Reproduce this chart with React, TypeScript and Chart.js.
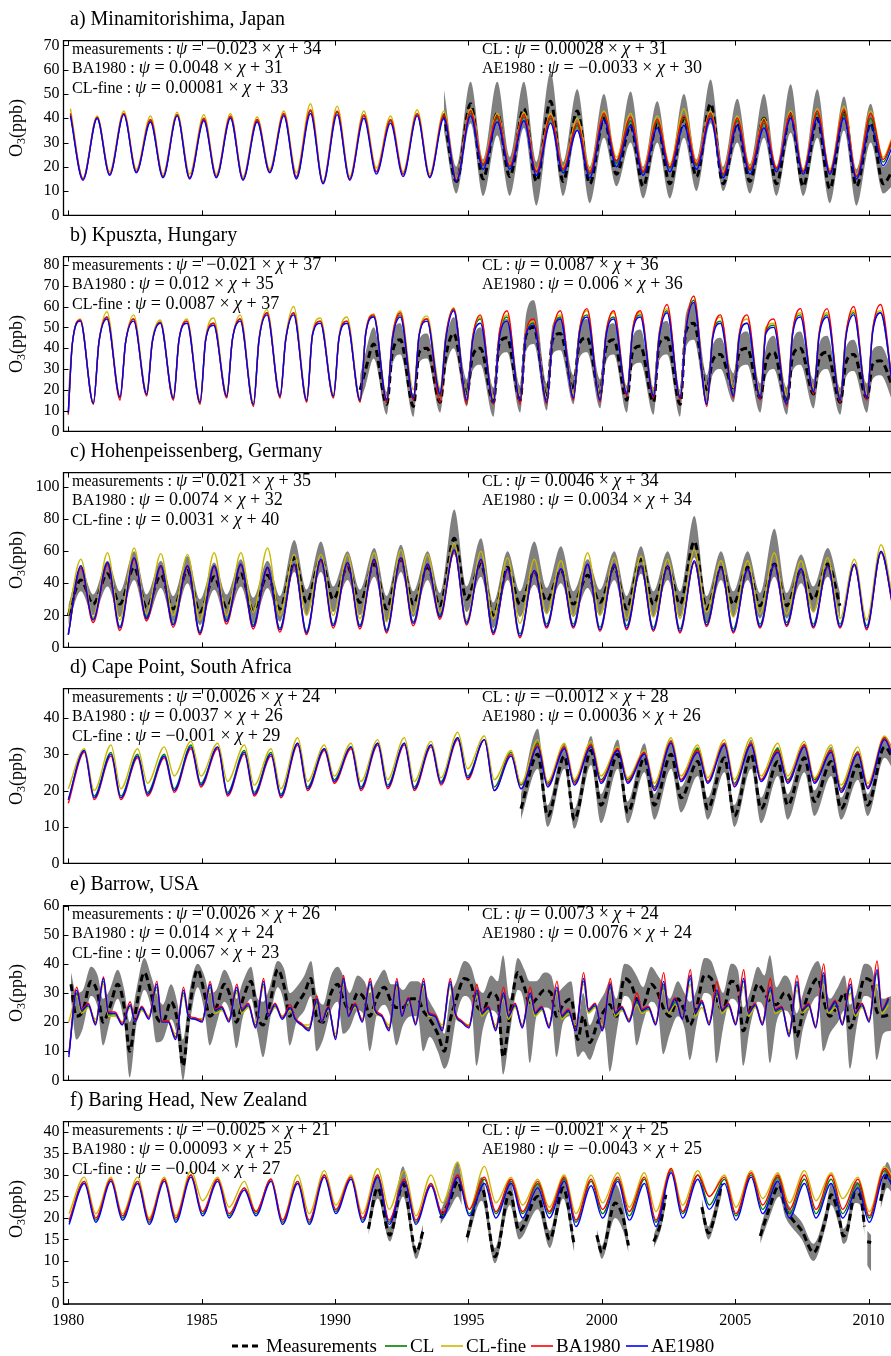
import React, { useEffect, useRef } from "react";
import { Chart, registerables } from "chart.js";
Chart.register(...registerables);

const N = null;
const SERIF = '"Liberation Serif", "Times New Roman", Times, serif';
const YEARS: number[] = [];
for (let y = 1980; y <= 2010; y++) YEARS.push(y);
const X_TICKS = [1980, 1985, 1990, 1995, 2000, 2005, 2010];
const X_MIN = 1979.82;
const X_MAX = 2011.03;
const PLOT_H = 190;

const COL_CL = "#008000";
const COL_CLF = "#ccb800";
const COL_BA = "#ff0000";
const COL_AE = "#0000ff";
const COL_BAND = "#808080";

function knots(phases: number[], head?: number, tail?: number): number[] {
  const t: number[] = [];
  if (head !== undefined) t.push(head);
  for (const y of YEARS) for (const p of phases) t.push(y + p);
  if (tail !== undefined) t.push(tail);
  return t;
}

// ---------------- a) Minamitorishima (peak, trough per year) ----------------
const A_T = knots([0.08, 0.55], undefined, 2010.88);
const A_CLF = [44,15.5, 41,18, 43,19, 41,17, 42.5,17, 41.5,17, 42,16, 40.5,19, 43,17.5, 46,14, 45,16, 43,19.5, 41,18, 43.5,17, 43,15, 44,22, 42,21, 42.5,19, 42,20, 40,19, 43,24, 42,19, 41,21, 44,22, 43,18, 41,20, 40,20, 43,19, 44,19, 45,17, 43,24, 32];
const A_AE = [41,14.5, 40,16.5, 41.5,17.5, 38.5,15.5, 41,15, 39,15.5, 40,14.5, 38.5,17.5, 41,15, 42,13, 41.5,14.5, 40,17, 38,16, 41,15.5, 40,14, 41,19, 38.5,19, 39,16.5, 38,17.5, 35,15.5, 39.5,20, 37,16.5, 36,18, 37,19, 40,15.5, 37,17, 36,18, 40,17, 40,17, 40,15, 37,20.5, 28];
const A_BA = [42,15, 40.5,17, 42,18, 39.5,16, 41.5,15.5, 40,16, 41,15, 39.5,18, 42,16, 43.5,13.5, 43,15, 41.5,18, 39.5,17, 42,16, 41.5,14.5, 43,21, 41,20.5, 41.5,18, 41,19, 38,17.5, 42,22.5, 40.5,18, 39.5,20, 41,21, 42,17, 40,19, 39,19.5, 42,18, 43,18, 43.5,16, 42,23, 31];
const A_CL = [41.5,15, 40,17, 42,18, 39,16, 41.5,15.5, 39.5,16, 40.5,15, 39,18, 41.5,15.5, 43,13.5, 42.5,15, 41,18, 39,17, 41.5,16, 41,14.5, 42,20.5, 40,20, 40.5,18, 40,18.5, 37,17, 41,21.5, 39,17.5, 38.5,19.5, 40,20.5, 41,16.5, 39,18.5, 38,19, 41.5,18, 42,18, 42,16, 40,22, 30];
const A_MEAS = [N,N, N,N, N,N, N,N, N,N, N,N, N,N, N,N, N,N, N,N, N,N, N,N, N,N, N,N, 42,14, 46,15, 42,16, 44,14, 47,14, 43,13, 40,17, 37,12, 38,13, 40,16, 46,13, 38,14, 40,13, 42,12, 40,11, 43,12, 38,13, 18];
const A_LO = [N,N, N,N, N,N, N,N, N,N, N,N, N,N, N,N, N,N, N,N, N,N, N,N, N,N, N,N, 35,9, 38,8, 33,8, 36,4, 38,8, 35,5, 32,12, 30,7, 30,7, 32,10, 38,10, 30,9, 32,8, 34,8, 32,5, 35,4, 30,9, 12];
const A_HI = [N,N, N,N, N,N, N,N, N,N, N,N, N,N, N,N, N,N, N,N, N,N, N,N, N,N, N,N, 52,20, 55,23, 55,24, 55,22, 59,22, 52,20, 50,23, 51,20, 47,20, 50,23, 56,20, 48,21, 50,20, 54,19, 52,18, 49,19, 46,20, 26];

// ---------------- b) Kpuszta (shoulder, peak, trough per year) ----------------
const B_T = knots([0.15, 0.45, 0.94], 1980.0);
const B_CLF = [17, 42,54,14, 43,57.5,17, 43,56,19, 44,53.5,17, 44,54,15, 45,54.5,18, 44,56,14, 45,58.5,18, 45,60,16, 47,54.5,18, 46,55,16, 48,56.5,16.5, 46,58,20, 47,55.5,21, 46,59.5,17, 45,55,16, 46,56,17, 48,53,16, 47,56,18, 48,58,17, 47,57,20, 49,57,20, 47,59,18, 50,65,16, 46,55,21, 47,54,19, 50,52,17, 48,57,21, 48,57,18, 47,58,18, 49,58,20];
const B_AE = [9, 42,53,13.5, 43,54,16.5, 43,53,18, 43,52,16, 44,52,14, 44,51,17, 44,53,13, 44,56,17, 44,56,15, 46,52,17, 45,52,15, 47,55,15, 44,55,16, 46,53,18, 44,58,15, 43,52,14, 44,53,15, 46,51,14, 45,54,16, 46,55,15, 45,54,18, 47,55,17, 45,57,16, 48,62,13, 44,52,17, 45,52,16, 47,50,13, 46,55,19, 46,55,15, 45,56,16, 47,57,18];
const B_BA = [8, 42,53.5,13, 43,55,15, 43,54,17, 43,52.5,15, 44,53,13, 44,52,16, 44,54,12, 44,57,16, 44,57,14, 46,53,16, 45,53,14, 47,56,14, 45,57,15, 46,54,14, 45,59,13, 44,56,13, 46,58,13, 47,54,13, 46,58,15, 47,59,14, 46,58,17, 48,58,16, 46,61,15, 49,65,12, 45,56,16, 46,56,15, 48,54,12, 47,59,18, 47,59,14, 46,60,15, 48,61,17];
const B_CL = [9, 42,53.5,13.5, 43,55,16, 43,54,17.5, 43,52.5,15.5, 44,53,13.5, 44,52,16.5, 44,54,12.5, 44,57,16.5, 44,57,14.5, 46,53,16.5, 45,53,14.5, 47,55.5,14.5, 45,56,16, 46,54,17, 45,58.5,14, 44,54,14, 45,55,15, 47,52,14, 46,55,16, 47,56,15, 46,55,18, 48,56,17, 46,58,16, 49,63,13, 45,53,18, 46,52,16, 48,51,14, 47,56,19, 47,56,16, 46,57,16, 48,57,18];
const B_MEAS = [N, N,N,N, N,N,N, N,N,N, N,N,N, N,N,N, N,N,N, N,N,N, N,N,N, N,N,N, N,N,N, N,N,20, 30,42,13, 38,44,12, 38,40,14, 36,47,18, 36,40,14, 42,45,15, 46,50,16, 44,47,20, 42,45,18, 40,44,15, 38,41,14, 42,45,13, 48,52,20, 34,37,21, 38,40,16, 33,38,14, 36,40,18, 35,38,14, 33,37,16, 32,34,20];
const B_LO = [N, N,N,N, N,N,N, N,N,N, N,N,N, N,N,N, N,N,N, N,N,N, N,N,N, N,N,N, N,N,N, N,N,14, 22,35,8, 32,37,7, 33,35,9, 30,40,12, 29,32,7, 35,38,9, 38,42,10, 37,39,13, 35,38,11, 33,37,9, 31,33,8, 34,37,7, 40,44,13, 27,30,14, 30,32,9, 26,30,8, 29,32,11, 27,30,8, 26,29,9, 25,27,13];
const B_HI = [N, N,N,N, N,N,N, N,N,N, N,N,N, N,N,N, N,N,N, N,N,N, N,N,N, N,N,N, N,N,N, N,N,27, 38,50,19, 45,52,18, 44,47,21, 43,55,25, 43,50,21, 49,54,22, 55,63,23, 51,55,27, 49,54,25, 47,52,22, 45,49,21, 49,53,20, 56,62,27, 41,45,28, 45,48,23, 40,46,21, 43,48,25, 42,46,21, 40,44,23, 39,41,27];

// ---------------- c) Hohenpeissenberg (peak, trough per year) ----------------
const C_T = knots([0.47, 0.93], 1980.0);
const C_AE = [8, 51,17, 53,12, 56,18, 51,14, 51,9, 51,16, 52,13, 50,11, 52,9, 55,13.5, 53,13, 55,10, 56,15, 52,19, 61,15, 55,9, 49,7, 48,13, 49,13, 52,11, 52,12, 51,11, 51,10, 54,14, 50,10, 49,13, 52,14, 49,13, 51,13, 52,12, 60,24];
const C_CLF = [20, 55,19, 59,17, 62,21, 58.5,20, 58,17, 59,20, 59,22, 62,20, 58,20, 58,20, 58,18, 59,16, 61,21, 58,22, 65,17, 60,18, 56,15, 55,21, 54,20, 59,20, 56,18, 57,19, 55,18, 61,22, 54,19, 54,21, 59,21, 54,22, 56,18, 55,17, 64,28];
const C_BA = [8, 49.5,15.5, 51.5,10.5, 55,16.5, 50,12.5, 50,8, 50,14.5, 51,11.5, 49,9.5, 51,8, 54,12, 52,11.5, 54,9, 55,13.5, 51,17.5, 60,14, 54,8, 48,6, 47.5,12, 48.5,12, 51.5,10, 51.5,11, 50.5,10, 50.5,9, 53,13, 49.5,9, 48.5,12, 51.5,13, 48.5,12, 50.5,12, 51.5,11, 59.5,23];
const C_CL = [8, 50.5,18, 52.5,13, 55.5,19, 50.5,15, 50.5,10, 50.5,17, 51.5,14, 49.5,12, 51.5,10, 54.5,14.5, 52.5,14, 54.5,11, 55.5,16, 51.5,20, 60.5,16, 54,10, 48.5,8.5, 47.5,14.5, 48.5,14.5, 51,12.5, 51,13.5, 50,12.5, 50,11.5, 53,15.5, 49,11.5, 48,14.5, 51,15.5, 48,14.5, 50,14.5, 51,13.5, 59,25];
const C_MEAS = [20, 42,27, 46,27, 50,25, 45,24, 48,22, 44,25, 46,23, 45,24, 56,28, 55,30, 50,28, 52,24, 55,27, 50,26, 68,30, 52,20, 50,27, 47,29, 48,27, 45,28, 50,24, 55,27, 50,27, 66,24, 50,27, 50,26, 52,26, 48,30, 52,26, N,N, N,N];
const C_LO = [14, 35,20, 38,19, 42,17, 37,16, 40,14, 36,17, 38,15, 37,16, 47,20, 47,22, 42,20, 44,16, 47,19, 42,18, 58,22, 44,12, 42,19, 39,21, 40,19, 37,20, 42,16, 46,19, 42,19, 56,16, 42,19, 42,18, 44,18, 40,22, 44,18, N,N, N,N];
const C_HI = [26, 50,33, 54,35, 60,33, 54,32, 57,30, 53,33, 55,31, 54,32, 67,36, 66,38, 60,36, 62,32, 64,35, 60,34, 86,38, 68,28, 60,35, 66,37, 63,35, 55,36, 60,32, 63,35, 60,35, 82,32, 60,35, 60,34, 74,34, 58,38, 62,34, N,N, N,N];

// ---------------- d) Cape Point (peak, trough per year) ----------------
const D_T = knots([0.6, 0.97], 1980.0);
const D_AE = [17.5, 31,18, 30,18, 29.5,19, 29.5,20, 32,21.5, 32,19, 30.5,19, 30,18.5, 33,20.5, 31.5,22.5, 32,20.5, 33,21, 33,20.5, 32.5,22, 34.5,23.5, 34,20, 29.5,20.5, 32,21, 31.5,21.5, 32,22, 31,22, 30,20, 33,22.5, 30.5,22, 32.5,21, 32.5,22.5, 30.5,22, 32,22, 30.5,19.5, 30,20.5, 34,28];
const D_CLF = [20.5, 31.5,20, 32.5,20.5, 31.5,22, 32,24, 33.5,24, 33,22.5, 32.5,21.5, 31.5,20.5, 34.5,22.5, 32.5,24, 33,22.5, 34,23, 34.5,22.5, 33.5,23.5, 36,26, 35,23, 31,22, 34,22.5, 33,23, 33.5,24, 32,23.5, 31,22, 34.5,24, 32.5,23.5, 34,23, 34.5,24, 33,24, 33.5,23.5, 32.5,21.5, 32,22, 35,29];
const D_BA = [16.5, 30.5,17.5, 29.5,17.5, 29,18.5, 29,19.5, 31.5,21, 31.5,18.5, 30,18.5, 29.5,18, 32.5,20, 31,22, 31.5,20, 32.5,20.5, 32.5,20, 32,21.5, 34,23, 34,20, 30,20.5, 32.5,21.5, 32,22, 32.5,22.5, 31.5,22.5, 30.5,20.5, 33.5,23, 31,22.5, 33,21.5, 33,23, 31,22.5, 32.5,22.5, 31,20, 30.5,21, 34.5,28];
const D_CL = [17.5, 31,18.5, 30.5,18.5, 30,19.5, 30,20.5, 32.5,22, 32,19.5, 31,19.5, 30.5,19, 33,21, 31.5,23, 32,21, 33,21.5, 33,21, 32.5,22.5, 34.5,24, 34,21, 30.5,21.5, 33,22, 32,22.5, 32.5,23, 31.5,23, 30.5,21, 33.5,23, 31.5,22.5, 33,22, 33,23, 31.5,23, 32.5,23, 31,20.5, 30.5,21, 34.5,28.5];
const D_MEAS = [N, N,N, N,N, N,N, N,N, N,N, N,N, N,N, N,N, N,N, N,N, N,N, N,N, N,N, N,N, N,N, N,N, N,15, 30,13, 29.5,12, 31,16, 30,14, 29,16, 30,18, 28,15, 29,13, 30,15, 28,16, 29,17, 28,15, 27,16, 32,28];
const D_LO = [N, N,N, N,N, N,N, N,N, N,N, N,N, N,N, N,N, N,N, N,N, N,N, N,N, N,N, N,N, N,N, N,N, N,12, 26,10, 26,9.5, 27,11, 26,11, 25,12, 26,14, 24,12, 25,10, 26,11, 24,12, 25,13, 24,12, 23,13, 29,25];
const D_HI = [N, N,N, N,N, N,N, N,N, N,N, N,N, N,N, N,N, N,N, N,N, N,N, N,N, N,N, N,N, N,N, N,N, N,19, 37,16, 33,15, 35,19, 34,17, 33,19, 34,21, 32,18, 33,16, 34,18, 32,19, 33,20, 32,18, 31,19, 35,31];

// ---------------- e) Barrow (4 knots per year) ----------------
const E_T = knots([0.02, 0.32, 0.5, 0.75]);
const E_AE = [8,31,24,26, 19,35,23,23, 19,26,20,25, 21,33,20,20, 14,31,22,21, 20,33,24,25, 20,32,24,26, 18,34,22,26, 21,25,21,19, 17,28,20,25, 14,35,22,26, 20,34,24,22, 17,34,22,28, 19,34,23,22, 17,34,23,20, 18,31,23,25, 17,30,22,26, 18,30,23,25, 18,32,22,24, 17,35,24,26, 17,33,23,25, 20,28,24,25, 19,34,24,28, 21,36,23,27, 19,31,24,26, 19,35,23,26, 19,32,24,25, 15,34,24,26, 18,37,24,27, 19,33,23,26, 20,38,24,28];
const E_BA = [9,32,24.5,26.5, 19.5,35.5,23.5,23.5, 19.5,27,20.5,25.5, 21.5,34,20.5,20.5, 14.5,32,22.5,21.5, 20.5,34,24.5,25.5, 20.5,33,24.5,26.5, 18.5,35,22.5,26.5, 21.5,26,21.5,19.5, 17.5,29,20.5,25.5, 14.5,36,22.5,26.5, 20.5,35,24.5,22.5, 17.5,35,22.5,28.5, 19.5,35,23.5,22.5, 17.5,35,23.5,20.5, 18.5,33,23.5,25.5, 17.5,32,22.5,26.5, 18.5,32,23.5,25.5, 18.5,34,22.5,24.5, 17.5,37,24.5,26.5, 17.5,35,23.5,25.5, 20.5,30,24.5,25.5, 19.5,37,24.5,28.5, 21.5,38,23.5,27.5, 19.5,34,24.5,26.5, 19.5,38,23.5,26.5, 19.5,35,24.5,25.5, 15.5,36,24.5,26.5, 18.5,40,24.5,27.5, 19.5,35,23.5,26.5, 20.5,41,24.5,28.5];
const E_CLF = [20,29,23,25, 21,33,22,22, 20,25,20,24, 22,31,20,20, 16,29,22,21, 21,31,23,24, 21,30,23,25, 20,32,22,25, 22,24,21,19, 19,26,20,24, 16,33,22,25, 21,32,23,22, 19,32,22,27, 20,32,22,22, 19,32,22,20, 19,29,22,24, 19,28,21,25, 19,28,22,24, 19,30,21,23, 19,33,23,25, 19,31,22,24, 21,26,23,24, 20,31,23,26, 22,33,22,25, 20,29,23,25, 20,32,22,25, 20,30,23,24, 17,31,23,25, 19,33,23,25, 20,30,22,25, 21,33,23,26];
const E_CL = [9,30,23.5,25.5, 20,34,22.5,22.5, 20,25.5,20,24.5, 22,32,20,20, 15,30,22,21, 21,32,23.5,24.5, 21,31,23.5,25.5, 19,33,22,25.5, 22,24.5,21,19, 18,27,20,24.5, 15,34,22,25.5, 21,33,23.5,22, 18,33,22,27.5, 20,33,22.5,22, 18,33,22.5,20, 19,30,22.5,24.5, 18,29,21.5,25.5, 19,29,22.5,24.5, 19,31,21.5,23.5, 18,34,23.5,25.5, 18,32,22.5,24.5, 21,27,23.5,24.5, 20,33,23.5,27, 22,35,22.5,26.5, 20,30,23.5,25.5, 20,34,22.5,25.5, 20,31,23.5,24.5, 16,33,23.5,25.5, 19,36,23.5,26.5, 20,32,22.5,25.5, 21,37,23.5,27.5];
const E_MT = knots([0.1, 0.3, 0.55, 0.85]);
const E_MEAS = [33,22,24,34, 30,20,25,33, 25,10,25,37, 30,22,20,27, 20,5,25,38, 30,22,25,33, 28,20,28,34, 22,19,26,38, 32,22,26,30, 35,22,20,30, 33,28,24,30, 28,22,28,32, 27,25,25,28, 28,24,21,16, 10,20,28,35, 33,26,24,30, 28,8,22,37, 32,26,28,31, 30,22,26,28, 14,22,13,20, 24,26,22,35, 33,28,26,33, 30,25,22,28, 24,19,25,36, 35,28,24,34, 32,17,24,33, 30,27,26,30, 27,15,24,32, 35,28,22,26, 30,18,24,35, 34,24,22,23];
const E_LO = [28,14,18,29, 25,12,20,28, 19,1,19,31, 25,13,14,21, 14,0,19,32, 24,12,19,27, 22,11,22,28, 16,8,20,32, 26,12,20,24, 29,10,14,24, 27,16,18,24, 22,10,22,26, 21,12,19,22, 22,10,15,10, 4,8,22,29, 27,5,18,24, 22,2,16,31, 26,6,22,25, 24,8,20,22, 8,10,7,14, 18,3,16,29, 27,12,20,27, 24,9,16,22, 18,7,19,30, 29,6,18,28, 26,5,18,27, 24,6,20,24, 21,7,18,26, 29,10,16,20, 24,4,18,29, 28,7,16,17];
const E_HI = [37,30,31,39, 36,28,31,38, 31,20,31,42, 36,30,26,33, 26,14,31,40, 36,30,31,38, 34,28,34,39, 28,27,32,41, 38,30,32,36, 41,30,26,36, 39,36,30,36, 34,30,34,38, 33,33,31,34, 34,32,27,22, 16,28,34,41, 39,33,30,36, 34,43,28,42, 38,34,34,37, 36,30,32,34, 20,30,19,26, 30,34,28,40, 39,36,32,39, 36,33,28,34, 30,27,31,42, 41,36,30,40, 38,25,30,39, 36,43,32,36, 33,23,30,38, 41,36,28,32, 36,26,30,40, 39,32,28,29];

// ---------------- f) Baring Head (trough, peak per year) ----------------
const F_T = knots([0.03, 0.6], undefined, 2010.95);
const F_AE = [18.5,28, 19,28.5, 19.5,28, 18.5,28.5, 19,29.5, 20.5,28.5, 20,26.5, 20.5,28.5, 18.5,28, 18.5,29.5, 21,29, 19,29.5, 18.5,28.5, 18.5,27.5, 20,29.5, 20.5,28, 20,28, 20,27, 20,28.5, 18,27.5, 20,28.5, 19.5,28, 18,30.5, 20,29, 22,28, 19.5,29.5, 21,28.5, 20,28, 20,28, 20,27, 19,30, 27];
const F_CLF = [21,29.5, 21,29.5, 21,29.5, 20,29.5, 20.5,31, 24,29.5, 22.5,28.5, 21.5,29, 19.5,30, 21,31, 23,30, 21,31.5, 22,31, 20.5,30, 23.5,33, 22,32, 23.5,29.5, 23,29, 22.5,30, 21,30, 23.5,30.5, 22.5,30.5, 21.5,31.5, 23,31, 25,30, 22.5,31, 24.5,30.5, 23.5,31, 24,30.5, 24.5,29.5, 21.5,32, 29];
const F_BA = [19.5,28.5, 20,29, 20.5,28.5, 19.5,29, 20,30, 21.5,29, 21,27, 21.5,29, 19.5,28.5, 19.5,30, 22,29.5, 20,30, 19.5,29, 19.5,28, 21,30, 22,29.5, 21.5,29, 21.5,28.5, 21.5,29.5, 19.5,29, 22,29.5, 21.5,29.5, 19.5,31.5, 21.5,30, 25,29.5, 21,30.5, 23,30, 22,30, 22,30, 22,29, 20.5,31.5, 28];
const F_CL = [19,28.5, 19.5,29, 20,28.5, 19,29, 19.5,30, 21,29, 20.5,27, 21,29, 19,28.5, 19,30, 21.5,29.5, 19.5,30, 19,29, 19,28, 20.5,30, 21,29, 21,28.5, 21,28, 21,29, 19,28.5, 21,29, 20.5,29, 19,31, 21,30, 23,29, 20.5,30, 22,29.5, 21,29, 21,29, 21,28, 20,31, 27.5];
const F_MT = [1991.25,1991.6,1992.05,1992.55,1993.05,1993.3,1993.6, 1993.95,1994.3,1994.6,1994.75,1994.85, 1994.95,1995.5,1996.0,1996.55,1996.9,1997.6,1998.05,1998.55,1998.97,1999.3, 1999.81,2000.0,2000.5,2000.8,2001.0,2001.3, 2001.95,2002.2,2002.4,2002.7, 2003.75,2004.0,2004.1,2004.5,2004.8, 2005.94,2006.25,2006.65,2006.9,2007.1,2007.5,2007.94,2008.4,2008.6,2008.9,2009.05,2009.2,2009.5,2009.7,2009.85,2009.9, 2009.95,2010.1,2010.3, 2010.45,2010.7,2010.95];
const F_MEAS = [17.5,27,16,28,12,17,N, 20,24,28.5,26,N, 15.5,27,11,26,17,25,15,27,13.6,N, 16,12,23.5,20,13.6,N, 14.5,18.7,25.4,N, 22.5,16.5,17.5,28,N, 15.8,21.7,27.5,22,20,17,12,20,25.4,20,15.8,17,26,25,18,N, 14.5,14.3,N, 24,30,27];
const F_LO = [16,24.5,14.5,25,10.5,15.5,N, 18.5,22,25,23,N, 14,24,9.5,23,15,22,13,24.5,12,N, 14.5,10.5,20,17,12,N, 13,17,23,N, 20.5,15,16,25.5,N, 14,19.5,25,20,18,15,10,18,23,18,14,15,23.5,23,16,N, 9,7.5,N, 22,27,25];
const F_HI = [19.5,30,18,32,13,18.5,N, 21.5,27,33,29,N, 17,29.5,13,29,19,28,17,30,15,N, 17.5,13.5,28,23,15,N, 16,21,27.5,N, 24.5,18,19.5,30,N, 17.5,24,30,24.5,22,19,14,22,28,22.5,17.5,19,28.5,27.5,20,N, 17,16,N, 27,33,29];

// ---------------- titles, equations, axes ----------------
const TITLES = ["a) Minamitorishima, Japan", "b) Kpuszta, Hungary", "c) Hohenpeissenberg, Germany", "d) Cape Point, South Africa", "e) Barrow, USA", "f) Baring Head, New Zealand"];
const PLOT_TOPS = [33, 249, 465, 681, 898, 1114];
const Y_MAX = [72, 84, 109, 48, 60, 42.4];
const Y_STEP = [10, 10, 20, 10, 10, 5];
const Y_TOP_TICK = [70, 80, 100, 40, 60, 40];
const EQ_LEFT = [
  [["measurements", "\u22120.023", "34"], ["BA1980", "0.0048", "31"], ["CL-fine", "0.00081", "33"]],
  [["measurements", "\u22120.021", "37"], ["BA1980", "0.012", "35"], ["CL-fine", "0.0087", "37"]],
  [["measurements", "0.021", "35"], ["BA1980", "0.0074", "32"], ["CL-fine", "0.0031", "40"]],
  [["measurements", "0.0026", "24"], ["BA1980", "0.0037", "26"], ["CL-fine", "\u22120.001", "29"]],
  [["measurements", "0.0026", "26"], ["BA1980", "0.014", "24"], ["CL-fine", "0.0067", "23"]],
  [["measurements", "\u22120.0025", "21"], ["BA1980", "0.00093", "25"], ["CL-fine", "\u22120.004", "27"]],
];
const EQ_RIGHT = [
  [["CL", "0.00028", "31"], ["AE1980", "\u22120.0033", "30"]],
  [["CL", "0.0087", "36"], ["AE1980", "0.006", "36"]],
  [["CL", "0.0046", "34"], ["AE1980", "0.0034", "34"]],
  [["CL", "\u22120.0012", "28"], ["AE1980", "0.00036", "26"]],
  [["CL", "0.0073", "24"], ["AE1980", "0.0076", "24"]],
  [["CL", "\u22120.0021", "25"], ["AE1980", "\u22120.0043", "25"]],
];

type Arr = (number | null)[];
type PanelData = { t: number[]; cl: Arr; clf: Arr; ba: Arr; ae: Arr; mt: number[]; m: Arr; lo: Arr; hi: Arr };
const PANELS: PanelData[] = [
  { t: A_T, cl: A_CL, clf: A_CLF, ba: A_BA, ae: A_AE, mt: A_T, m: A_MEAS, lo: A_LO, hi: A_HI },
  { t: B_T, cl: B_CL, clf: B_CLF, ba: B_BA, ae: B_AE, mt: B_T, m: B_MEAS, lo: B_LO, hi: B_HI },
  { t: C_T, cl: C_CL, clf: C_CLF, ba: C_BA, ae: C_AE, mt: C_T, m: C_MEAS, lo: C_LO, hi: C_HI },
  { t: D_T, cl: D_CL, clf: D_CLF, ba: D_BA, ae: D_AE, mt: D_T, m: D_MEAS, lo: D_LO, hi: D_HI },
  { t: E_T, cl: E_CL, clf: E_CLF, ba: E_BA, ae: E_AE, mt: E_MT, m: E_MEAS, lo: E_LO, hi: E_HI },
  { t: F_T, cl: F_CL, clf: F_CLF, ba: F_BA, ae: F_AE, mt: F_MT, m: F_MEAS, lo: F_LO, hi: F_HI },
];

function xy(t: number[], v: Arr) {
  return v.map((y, i) => ({ x: t[i], y }));
}

function lineDs(label: string, t: number[], v: Arr, color: string, width: number, order: number, dash: number[] = []) {
  return {
    label,
    data: xy(t, v),
    borderColor: color,
    backgroundColor: color,
    borderWidth: width,
    borderDash: dash,
    pointRadius: 0,
    fill: false,
    spanGaps: false,
    cubicInterpolationMode: "monotone",
    order,
  };
}

const framePlugin = {
  id: "frame",
  afterDatasetsDraw(chart: any) {
    const { ctx, chartArea: a, scales } = chart;
    ctx.save();
    ctx.strokeStyle = "#000";
    ctx.lineWidth = 1.3;
    ctx.beginPath();
    ctx.moveTo(a.right + 3, a.top);
    ctx.lineTo(a.left, a.top);
    ctx.lineTo(a.left, a.bottom);
    ctx.lineTo(a.right + 3, a.bottom);
    ctx.stroke();
    ctx.lineWidth = 1;
    ctx.beginPath();
    for (const v of X_TICKS) {
      const px = Math.round(scales.x.getPixelForValue(v)) + 0.5;
      ctx.moveTo(px, a.bottom);
      ctx.lineTo(px, a.bottom - 5);
      ctx.moveTo(px, a.top);
      ctx.lineTo(px, a.top + 5);
    }
    for (const tk of scales.y.ticks) {
      const py = Math.round(scales.y.getPixelForValue(tk.value)) + 0.5;
      ctx.moveTo(a.left, py);
      ctx.lineTo(a.left + 5, py);
    }
    ctx.stroke();
    ctx.restore();
  },
};

function PanelChart({ idx }: { idx: number }) {
  const ref = useRef<HTMLCanvasElement>(null);
  const last = idx === PANELS.length - 1;
  const h = PLOT_H + 6 + (last ? 40 : 6);
  useEffect(() => {
    const p = PANELS[idx];
    const yt: number[] = [];
    for (let v = 0; v <= Y_TOP_TICK[idx] + 1e-9; v += Y_STEP[idx]) yt.push(v);
    const datasets: any[] = [
      { label: "band-hi", data: xy(p.mt, p.hi), borderColor: "rgba(0,0,0,0)", borderWidth: 0, backgroundColor: COL_BAND, pointRadius: 0, fill: "+1", spanGaps: false, cubicInterpolationMode: "monotone", order: 10 },
      { label: "band-lo", data: xy(p.mt, p.lo), borderColor: "rgba(0,0,0,0)", borderWidth: 0, backgroundColor: COL_BAND, pointRadius: 0, fill: false, spanGaps: false, cubicInterpolationMode: "monotone", order: 10 },
      lineDs("Measurements", p.mt, p.m, "#000", 3, 6, [7, 4]),
      lineDs("CL", p.t, p.cl, COL_CL, 1.4, 5),
      lineDs("CL-fine", p.t, p.clf, COL_CLF, 1.4, 4),
      lineDs("BA1980", p.t, p.ba, COL_BA, 1.4, 3),
      lineDs("AE1980", p.t, p.ae, COL_AE, 1.4, 2),
    ];
    const chart = new Chart(ref.current as HTMLCanvasElement, {
      type: "line",
      data: { datasets },
      options: {
        animation: false,
        responsive: false,
        maintainAspectRatio: false,
        devicePixelRatio: 1,
        layout: { padding: { top: 6, right: 4, left: 0, bottom: 0 } },
        plugins: { legend: { display: false }, tooltip: { enabled: false }, title: { display: false } },
        scales: {
          x: {
            type: "linear",
            min: X_MIN,
            max: X_MAX,
            grid: { display: false, drawTicks: false },
            border: { display: false },
            afterBuildTicks: (s: any) => { s.ticks = X_TICKS.map((v) => ({ value: v })); },
            afterFit: (s: any) => { s.height = last ? 40 : 6; },
            ticks: { display: last, padding: 7, color: "#000", maxRotation: 0, autoSkip: false, font: { family: SERIF, size: 16 }, callback: (v: any) => String(v) },
          },
          y: {
            type: "linear",
            min: 0,
            max: Y_MAX[idx],
            grid: { display: false, drawTicks: false },
            border: { display: false },
            afterBuildTicks: (s: any) => { s.ticks = yt.map((v) => ({ value: v })); },
            afterFit: (s: any) => { s.width = 63.5; },
            ticks: { padding: 4, color: "#000", autoSkip: false, font: { family: SERIF, size: 16 }, callback: (v: any) => String(v) },
          },
        },
      } as any,
      plugins: [framePlugin],
    });
    return () => chart.destroy();
  }, [idx]);
  return (
    <canvas
      ref={ref}
      width={900}
      height={h}
      style={{ position: "absolute", left: 0, top: PLOT_TOPS[idx] - 6, width: 900, height: h }}
    />
  );
}

function EqLine({ e }: { e: string[] }) {
  return (
    <div style={{ whiteSpace: "pre", height: 19.3, lineHeight: "19.3px" }}>
      <span style={{ fontSize: 16 }}>{e[0]} : </span>
      <span style={{ fontSize: 18 }}><i>ψ</i> = {e[1]} × <i>χ</i> + {e[2]}</span>
    </div>
  );
}

function Overlay({ idx }: { idx: number }) {
  const T = PLOT_TOPS[idx];
  return (
    <>
      <div style={{ position: "absolute", left: 70, top: T - 26, fontSize: 20, lineHeight: "22px", whiteSpace: "pre" }}>{TITLES[idx]}</div>
      <div style={{ position: "absolute", left: 18, top: T + PLOT_H / 2, transform: "translate(-50%, -50%) rotate(-90deg)", fontSize: 18, whiteSpace: "pre", lineHeight: "20px" }}>
        O<sub style={{ fontSize: 12, verticalAlign: "-3px" }}>3</sub>(ppb)
      </div>
      <div style={{ position: "absolute", left: 72, top: T + 6 }}>
        {EQ_LEFT[idx].map((e, i) => <EqLine key={i} e={e} />)}
      </div>
      <div style={{ position: "absolute", left: 482, top: T + 6 }}>
        {EQ_RIGHT[idx].map((e, i) => <EqLine key={i} e={e} />)}
      </div>
    </>
  );
}

const LEGEND = [
  { label: "Measurements", color: "#000", dash: true, x0: 232, w: 28, tx: 266 },
  { label: "CL", color: COL_CL, dash: false, x0: 385, w: 22, tx: 410 },
  { label: "CL-fine", color: COL_CLF, dash: false, x0: 441, w: 22, tx: 466 },
  { label: "BA1980", color: COL_BA, dash: false, x0: 531, w: 22, tx: 556 },
  { label: "AE1980", color: COL_AE, dash: false, x0: 626, w: 22, tx: 651 },
];

function Legend() {
  const cy = 1346;
  return (
    <>
      {LEGEND.map((it) => (
        <React.Fragment key={it.label}>
          <svg style={{ position: "absolute", left: it.x0, top: cy - 4 }} width={it.w} height={8}>
            <line x1={0} y1={4} x2={it.w} y2={4} stroke={it.color} strokeWidth={it.dash ? 3 : 1.6} strokeDasharray={it.dash ? "6 4" : undefined} />
          </svg>
          <div style={{ position: "absolute", left: it.tx, top: cy - 11, fontSize: 19, lineHeight: "22px", whiteSpace: "pre" }}>{it.label}</div>
        </React.Fragment>
      ))}
    </>
  );
}

export default function App() {
  return (
    <div style={{ position: "absolute", left: 0, top: 0, width: 891, height: 1356, overflow: "hidden", background: "#fff", fontFamily: SERIF, color: "#000" }}>
      {PANELS.map((_, i) => <PanelChart key={"c" + i} idx={i} />)}
      {PANELS.map((_, i) => <Overlay key={"o" + i} idx={i} />)}
      <Legend />
    </div>
  );
}
